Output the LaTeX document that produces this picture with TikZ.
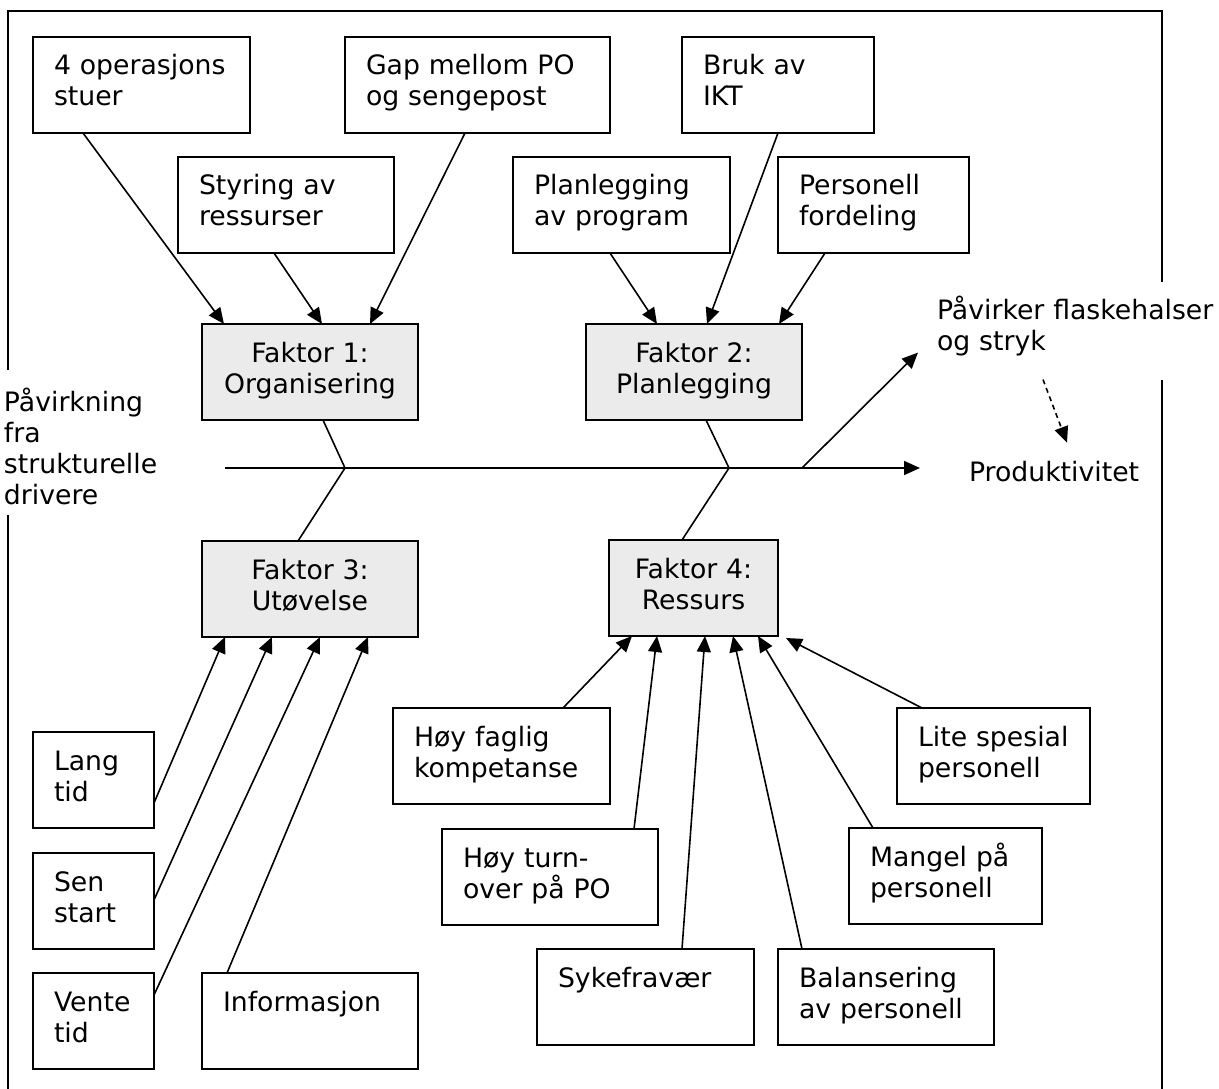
\documentclass[tikz,border=0pt]{standalone}
\usepackage{fontspec}
\setmainfont{DejaVu Sans}
\usetikzlibrary{arrows.meta,calc}
\begin{document}
\begin{tikzpicture}[x=1pt,y=-1pt,
  every node/.style={font=\fontsize{26.7}{31}\selectfont},
  cause/.style={draw, line width=1.8pt, anchor=north west, outer sep=0pt,
    inner xsep=21pt, inner ysep=0pt, text height=38pt, text depth=58pt,
    align=left, text width=\dimexpr#1pt-42pt\relax},
  factor/.style={cause=#1, fill=gray!16, align=center},
  link/.style={line width=1.6pt},
  arr/.style={link, -{Triangle[length=16pt,width=14pt]}},
  frame/.style={line width=1.8pt},
  free/.style={inner sep=0pt, outer sep=0pt, align=left, anchor=base west}]

\useasboundingbox (0,0) rectangle (1219,1089);
\fill[white] (0,0) rectangle (1219,1089);

% outer frame, open where the side labels sit
\draw[frame] (8,370) -- (8,11) -- (1162,11) -- (1162,282);
\draw[frame] (8,515) -- (8,1089);
\draw[frame] (1162,380) -- (1162,1089);

% causes above the spine
\node[cause=217] (c1) at (33,37) {4 operasjons\\stuer};
\node[cause=216] (c2) at (178,157) {Styring av\\ressurser};
\node[cause=265] (c3) at (345,37) {Gap mellom PO\\og sengepost};
\node[cause=192] (c4) at (682,37) {Bruk av\\IKT};
\node[cause=217] (c5) at (513,157) {Planlegging\\av program};
\node[cause=191] (c6) at (778,157) {Personell\\fordeling};

% main factors
\node[factor=216] (f1) at (202,324) {Faktor 1:\\Organisering};
\node[factor=216] (f2) at (586,324) {Faktor 2:\\Planlegging};
\node[factor=216] (f3) at (202,541) {Faktor 3:\\Utøvelse};
\node[factor=169] (f4) at (609,540) {Faktor 4:\\Ressurs};

% causes below the spine
\node[cause=121] (c7) at (33,732) {Lang\\tid};
\node[cause=121] (c8) at (33,853) {Sen\\start};
\node[cause=121] (c9) at (33,973) {Vente\\tid};
\node[cause=216] (c10) at (202,973) {Informasjon};
\node[cause=217] (c11) at (393,708) {Høy faglig\\kompetanse};
\node[cause=216] (c12) at (442,829) {Høy turn-\\over på PO};
\node[cause=217] (c13) at (537,949) {Sykefravær};
\node[cause=216] (c14) at (778,949) {Balansering\\av personell};
\node[cause=193] (c15) at (849,828) {\mbox{Mangel på}\\personell};
\node[cause=193] (c16) at (897,708) {\mbox{Lite spesial}\\personell};

% free labels
\node[free, text width=160pt] (src) at (4,411) {Påvirkning\\fra\\strukturelle\\drivere};
\node[free, text width=280pt] (pv) at (937,319) {Påvirker flaskehalser\\og stryk};
\node[free] (prod) at (969,481) {Produktivitet};

% spine and its junctions
\coordinate (sL) at (225,468);
\coordinate (j1) at (345,468);
\coordinate (j2) at (729,468);
\coordinate (j3) at (802,468);
\draw[arr] (sL) -- ($(sL -| prod.west)+(-49,0)$);
\draw[link] ($(f1.south west)+(121,0)$) -- (j1) -- ($(f3.north west)+(96,0)$);
\draw[link] ($(f2.south west)+(120,0)$) -- (j2) -- ($(f4.north west)+(73,0)$);
\draw[arr] (j3) -- ($(pv.south west)+(-19,-3)$);
\draw[arr, dash pattern=on 5pt off 4pt] ($(pv.south west)+(106,24)$) -- ($(prod.north west)+(98,-18)$);

% arrows into factor 1 and 2
\draw[arr] ($(c1.south west)+(50,0)$) -- ($(f1.north west)+(22,0)$);
\draw[arr] ($(c2.south west)+(96,0)$) -- ($(f1.north west)+(120,0)$);
\draw[arr] ($(c3.south west)+(120,0)$) -- ($(f1.north west)+(168,0)$);
\draw[arr] ($(c5.south west)+(97,0)$) -- ($(f2.north west)+(71,0)$);
\draw[arr] ($(c4.south west)+(96,0)$) -- ($(f2.north west)+(121,0)$);
\draw[arr] ($(c6.south west)+(47,0)$) -- ($(f2.north west)+(193,0)$);

% arrows into factor 3
\draw[arr] ($(c7.north east)+(0,71)$) -- ($(f3.south west)+(23,0)$);
\draw[arr] ($(c8.north east)+(0,47)$) -- ($(f3.south west)+(70,0)$);
\draw[arr] ($(c9.north east)+(0,22)$) -- ($(f3.south west)+(118,0)$);
\draw[arr] ($(c10.north west)+(25,0)$) -- ($(f3.south west)+(166,0)$);

% arrows into factor 4
\draw[arr] ($(c11.north west)+(170,0)$) -- ($(f4.south west)+(23,0)$);
\draw[arr] ($(c12.north west)+(192,0)$) -- ($(f4.south west)+(48,0)$);
\draw[arr] ($(c13.north west)+(145,0)$) -- ($(f4.south west)+(96,0)$);
\draw[arr] ($(c14.north west)+(24,0)$) -- ($(f4.south west)+(124,0)$);
\draw[arr] ($(c15.north west)+(24,0)$) -- ($(f4.south west)+(149,0)$);
\draw[arr] ($(c16.north west)+(25,0)$) -- ($(f4.south east)+(8,2)$);
\end{tikzpicture}
\end{document}
